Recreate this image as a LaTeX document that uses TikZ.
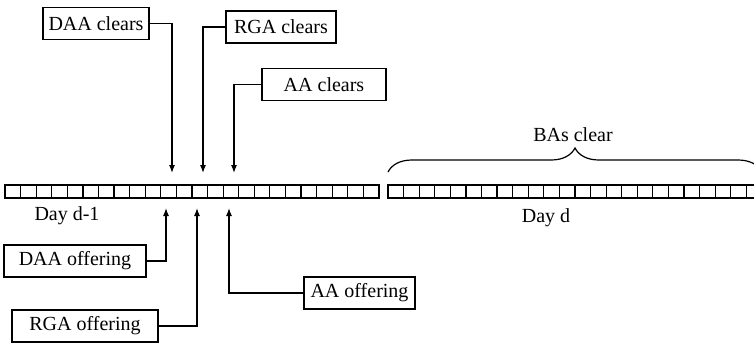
\documentclass[tikz,border=0pt]{standalone}
\usepackage{fontspec}
\setmainfont{Liberation Serif}
\usetikzlibrary{arrows.meta,decorations.pathreplacing}
\tikzset{
  lbl/.style={draw, line width=0.6pt, inner sep=0pt, minimum height=16pt},
  ptr/.style={line width=0.6pt, -{Latex[length=4pt,width=3pt]}},
  slot/.style={draw, line width=0.6pt}
}
\begin{document}
\begin{tikzpicture}[x=0.5pt,y=-0.5pt,font=\fontsize{10}{12}\selectfont]
        \useasboundingbox (0,0) rectangle (754,344);
        \clip (0,0) rectangle (754,344);
        % time slots of the two days
        \foreach \i in {0,...,23} {
            \draw [slot] ({5+15.58*\i},185) rectangle +(15.58,13);
            \draw [slot] ({388+15.58*\i},185) rectangle +(15.58,13);
        }
        \node (dm1) at (67,216) {Day d-1};
        \node (dd) at (546,218) {Day d};
        \draw [line width=0.6pt, decorate, decoration={brace, amplitude=12pt}] (388,172) -- (762,172);
        \node (bas) at (573,135) {BAs clear};
        % clearing
        \node [lbl, minimum width=53pt] (daac) at (96,23.5) {DAA clears};
        \node [lbl, minimum width=55pt] (rgac) at (281,27) {RGA clears};
        \node [lbl, minimum width=62pt] (aac) at (324,84.5) {AA clears};
        \coordinate (cDAA) at (172,173);
        \coordinate (cRGA) at (203,173);
        \coordinate (cAA) at (234,173);
        \draw [ptr] (daac.east) -| (cDAA);
        \draw [ptr] (rgac.west) -| (cRGA);
        \draw [ptr] (aac.west) -| (cAA);
        % offering
        \node [lbl, minimum width=71pt] (daao) at (75,261) {DAA offering};
        \node [lbl, minimum width=73pt] (rgao) at (85,326) {RGA offering};
        \node [lbl, minimum width=55.5pt] (aao) at (359.5,293) {AA offering};
        \coordinate (oDAA) at (166,208);
        \coordinate (oRGA) at (197,208);
        \coordinate (oAA) at (229,208);
        \draw [ptr] (daao.east) -| (oDAA);
        \draw [ptr] (rgao.east) -| (oRGA);
        \draw [ptr] (aao.west) -| (oAA);
    \end{tikzpicture}
\end{document}
